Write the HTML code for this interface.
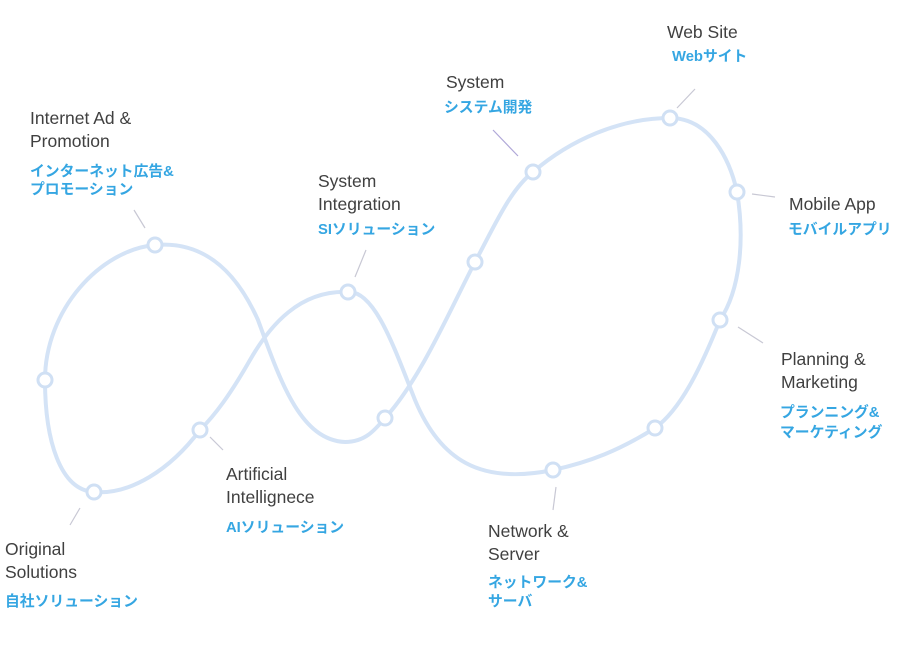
<!DOCTYPE html>
<html><head><meta charset="utf-8"><style>
html,body{margin:0;padding:0;background:#fff;}
svg{display:block}
.en{font-family:"Liberation Sans","Noto Sans CJK JP",sans-serif;font-size:17.5px;fill:#404040;}
.jp{font-family:"Liberation Sans","Noto Sans CJK JP",sans-serif;font-size:14.8px;font-weight:bold;fill:#35a6e2;}
</style></head><body>
<svg width="914" height="646" viewBox="0 0 914 646" xmlns="http://www.w3.org/2000/svg">
<path d="M94,492 C60,490 45,440 45,380 C45,310 100,250 155,245 C210,240 240,280 258,320 C280,380 300,440 345,442 C365,442 375,430 385,418 C420,380 450,310 475,262 C495,225 510,190 533,172 C570,140 620,118 670,118 C710,118 730,160 737,192 C745,240 740,290 720,320 C700,370 680,410 655,428 C620,450 590,462 553,470 C480,485 440,460 415,400 C395,350 375,290 348,292 C300,290 270,325 250,360 C230,395 215,415 200,430 C170,470 130,495 94,492 Z" fill="none" stroke="#d4e3f6" stroke-width="4"/>
<g fill="#fff" stroke="#d0e0f4" stroke-width="3">
<circle cx="94" cy="492" r="7"/><circle cx="45" cy="380" r="7"/><circle cx="155" cy="245" r="7"/>
<circle cx="348" cy="292" r="7"/><circle cx="200" cy="430" r="7"/><circle cx="385" cy="418" r="7"/>
<circle cx="475" cy="262" r="7"/><circle cx="533" cy="172" r="7"/><circle cx="670" cy="118" r="7"/>
<circle cx="737" cy="192" r="7"/><circle cx="720" cy="320" r="7"/><circle cx="655" cy="428" r="7"/>
<circle cx="553" cy="470" r="7"/>
</g>
<g stroke="#c8c8d4" stroke-width="1.2">
<line x1="134" y1="210" x2="145" y2="228"/>
<line x1="366" y1="250" x2="355" y2="277"/>
<line x1="210" y1="437" x2="223" y2="450"/>
<line x1="80" y1="508" x2="70" y2="525"/>
<line x1="493" y1="130" x2="518" y2="156" stroke="#b0a8d8"/>
<line x1="695" y1="89" x2="677" y2="108"/>
<line x1="752" y1="194" x2="775" y2="197"/>
<line x1="738" y1="327" x2="763" y2="343"/>
<line x1="556" y1="487" x2="553" y2="510"/>
</g>
<text class="en" x="30" y="124">Internet Ad &amp;</text>
<text class="en" x="30" y="147">Promotion</text>
<text class="jp" x="30" y="176">インターネット広告&amp;</text>
<text class="jp" x="30" y="194">プロモーション</text>
<text class="en" x="318" y="187">System</text>
<text class="en" x="318" y="210">Integration</text>
<text class="jp" x="318" y="234">SIソリューション</text>
<text class="en" x="446" y="88">System</text>
<text class="jp" x="444" y="112">システム開発</text>
<text class="en" x="667" y="38">Web Site</text>
<text class="jp" x="672" y="61">Webサイト</text>
<text class="en" x="789" y="210">Mobile App</text>
<text class="jp" x="788" y="234">モバイルアプリ</text>
<text class="en" x="781" y="365">Planning &amp;</text>
<text class="en" x="781" y="388">Marketing</text>
<text class="jp" x="780" y="417">プランニング&amp;</text>
<text class="jp" x="780" y="437">マーケティング</text>
<text class="en" x="488" y="537">Network &amp;</text>
<text class="en" x="488" y="560">Server</text>
<text class="jp" x="488" y="587">ネットワーク&amp;</text>
<text class="jp" x="488" y="606">サーバ</text>
<text class="en" x="226" y="480">Artificial</text>
<text class="en" x="226" y="503">Intellignece</text>
<text class="jp" x="226" y="532">AIソリューション</text>
<text class="en" x="5" y="555">Original</text>
<text class="en" x="5" y="578">Solutions</text>
<text class="jp" x="5" y="606">自社ソリューション</text>
</svg>
</body></html>
